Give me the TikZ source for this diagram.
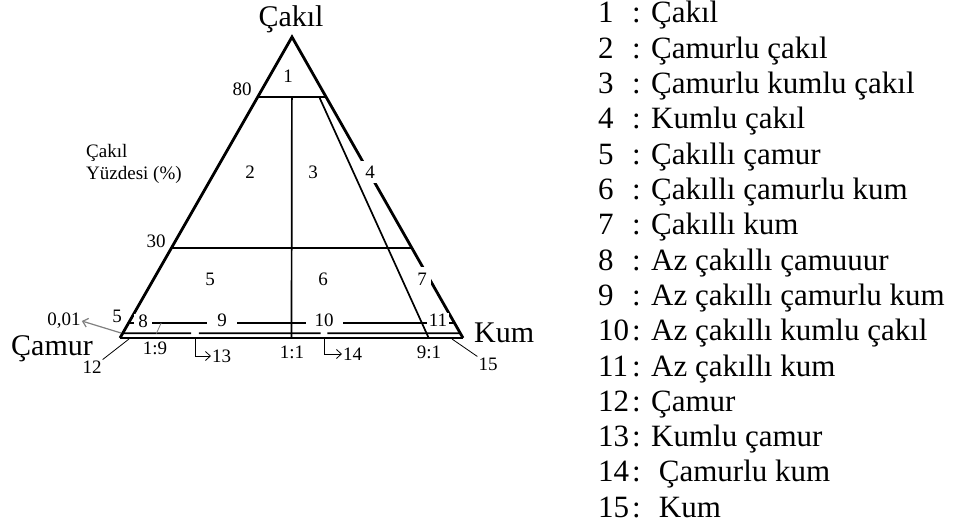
\documentclass[tikz,border=0pt]{standalone}
\usepackage{fontspec}
\setmainfont{Liberation Serif}
\usetikzlibrary{arrows.meta,calc}
\tikzset{
  side/.style={line width=2.8pt, line join=miter},
  divide/.style={line width=1.7pt},
  lead/.style={line width=0.8pt},
  num/.style={font=\fontsize{19}{22}\selectfont, inner sep=1pt},
  numbg/.style={num, fill=white, inner xsep=4pt},
  corner/.style={font=\fontsize{30}{34}\selectfont, inner sep=0pt},
  legend/.style={font=\fontsize{31}{35}\selectfont, anchor=base west, inner sep=0pt},
  pointer/.style={-{Straight Barb[length=5pt,width=9pt]}, lead},
}

\begin{document}
\begin{tikzpicture}[x=1pt,y=-1pt]
  \useasboundingbox (0,0) rectangle (955,527);

  % corners of the triangle
  \coordinate (gravel) at (292,37);
  \coordinate (mud)    at (120,338);
  \coordinate (sand)   at (463,338);

  % sand : mud ratios on the base
  \coordinate (r19) at ($(mud)!0.1!(sand)$);
  \coordinate (r11) at ($(mud)!0.5!(sand)$);
  \coordinate (r91) at ($(mud)!0.9!(sand)$);

  % gravel percentage lines
  \foreach \p/\t in {80/0.8, 30/0.3, 5/0.05, 0/0.0155} {
    \coordinate (m\p) at ($(mud)!\t!(gravel)$);
    \coordinate (s\p) at ($(sand)!\t!(gravel)$);
  }
  \draw[divide] (m80) -- (s80);
  \draw[divide] (m30) -- (s30);
  \draw[divide] (m5) -- (s5);
  \draw[divide] (m0) -- ($(m0)!0.203!(s0)$) ($(m0)!0.226!(s0)$) -- ($(m0)!0.586!(s0)$)
                ($(m0)!0.606!(s0)$) -- (s0);

  % ratio lines from the gravel corner
  \draw[divide] ($(gravel)!0.2!(r11)$) -- (r11);
  \draw[divide] ($(gravel)!0.2!(r91)$) -- (r91);
  \draw[lead, gray] ($(gravel)!0.95!(r19)$) -- ($(gravel)!0.985!(r19)$);

  \draw[side] (sand) -- (gravel) -- (mud);
  \draw[divide] (mud) -- (sand);

  % corner names
  \node[corner, anchor=base] (tgravel) at (291,27) {Çakıl};
  \node[corner, anchor=base west] (tsand) at (474,342) {Kum};
  \node[corner, anchor=base west] (tmud) at (11,355) {Çamur};

  % axis
  \node[num] (p80) at (242,89) {80};
  \node[num] (p30) at (156,241) {30};
  \node[num, anchor=north west, align=left, inner sep=0pt] (axis) at (86,144)
    {Çakıl\\Yüzdesi (\%)};

  % classes
  \node[num] (c1) at (288,76) {1};
  \node[num] (c2) at (250,172) {2};
  \node[num] (c3) at (313,172) {3};
  \node[numbg, inner ysep=5pt] (c4) at (370,172) {4};
  \node[num] (c5) at (210,279) {5};
  \node[num] (c6) at (323,279) {6};
  \node[numbg, inner ysep=6pt] (c7) at (422,279) {7};
  \node[num] (c5b) at (117,316) {5};
  \node[numbg] (c8) at (143,321) {8};
  \node[numbg, inner xsep=10pt] (c9) at (222,320) {9};
  \node[numbg, inner xsep=9pt] (c10) at (324,320) {10};
  \node[numbg, inner xsep=2pt] (c11) at (438,320) {11};

  % ratios
  \node[num] (q19) at (155,348) {1:9};
  \node[num] (q11) at (292,352) {1:1};
  \node[num] (q91) at (429,352) {9:1};

  % classes on the base
  \coordinate (f13) at ($(m0)!0.214!(s0)+(0,5)$);
  \coordinate (f14) at ($(m0)!0.596!(s0)+(0,5)$);
  \node[num, anchor=west] (c13) at (211,356) {13};
  \node[num, anchor=west] (c14) at (342,354) {14};
  \draw[pointer] (f13) |- (c13.west);
  \draw[pointer] (f14) |- (c14.west);

  \coordinate (f12) at (129,339);
  \coordinate (f15) at (452,339);
  \coordinate (f01) at (121,333);
  \node[num] (c12) at (92,367) {12};
  \node[num] (c15) at (488,364) {15};
  \node[num] (p01) at (64,321) {0,01};
  \draw[lead] (f12) -- (c12.north east);
  \draw[lead] (f15) -- (c15.north west);
  \draw[pointer, gray, line width=1.2pt] (f01) -- (p01.east);

  % key
  \foreach \n/\t [count=\k] in {1/Çakıl, 2/Çamurlu çakıl, 3/Çamurlu kumlu çakıl,
      4/Kumlu çakıl, 5/Çakıllı çamur, 6/Çakıllı çamurlu kum, 7/Çakıllı kum,
      8/Az çakıllı çamuuur, 9/Az çakıllı çamurlu kum, 10/Az çakıllı kumlu çakıl,
      11/Az çakıllı kum, 12/Çamur, 13/Kumlu çamur, 14/\ Çamurlu kum, 15/\ Kum} {
    \node[legend] (key\k) at (598,23+\k*35.3-35.3) {\n};
    \node[legend] (item\k) at (632,23+\k*35.3-35.3) {: \t};
  }
\end{tikzpicture}
\end{document}
